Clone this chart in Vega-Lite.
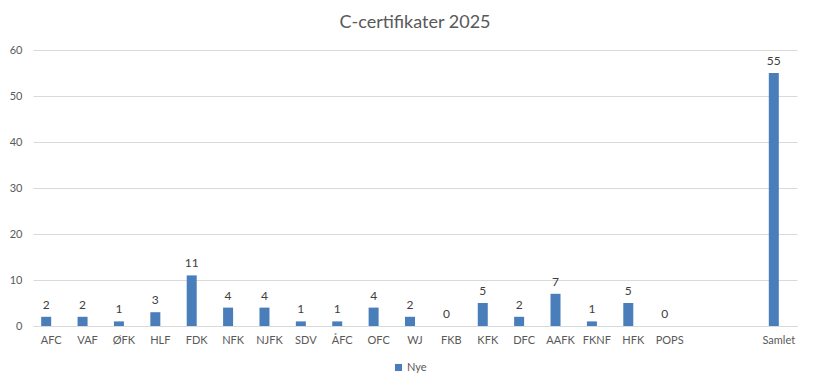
{
  "$schema": "https://vega.github.io/schema/vega-lite/v6.json",
  "width": 764,
  "height": 276,
  "autosize": {"type": "none"},
  "padding": {"left": 33, "top": 50, "right": 16, "bottom": 64},
  "background": "white",
  "title": {"text": "C-certifikater 2025", "font": "Lato", "fontSize": 18, "fontWeight": "normal", "color": "#595959", "anchor": "middle", "offset": 12},
  "data": {"values": [
    {"kat": "AFC", "antall": 2, "serie": "Nye"},
    {"kat": "VAF", "antall": 2, "serie": "Nye"},
    {"kat": "ØFK", "antall": 1, "serie": "Nye"},
    {"kat": "HLF", "antall": 3, "serie": "Nye"},
    {"kat": "FDK", "antall": 11, "serie": "Nye"},
    {"kat": "NFK", "antall": 4, "serie": "Nye"},
    {"kat": "NJFK", "antall": 4, "serie": "Nye"},
    {"kat": "SDV", "antall": 1, "serie": "Nye"},
    {"kat": "ÅFC", "antall": 1, "serie": "Nye"},
    {"kat": "OFC", "antall": 4, "serie": "Nye"},
    {"kat": "WJ", "antall": 2, "serie": "Nye"},
    {"kat": "FKB", "antall": 0, "serie": "Nye"},
    {"kat": "KFK", "antall": 5, "serie": "Nye"},
    {"kat": "DFC", "antall": 2, "serie": "Nye"},
    {"kat": "AAFK", "antall": 7, "serie": "Nye"},
    {"kat": "FKNF", "antall": 1, "serie": "Nye"},
    {"kat": "HFK", "antall": 5, "serie": "Nye"},
    {"kat": "POPS", "antall": 0, "serie": "Nye"},
    {"kat": "Samlet", "antall": 55, "serie": "Nye"}
  ]},
  "encoding": {
    "x": {
      "field": "kat", "type": "nominal", "sort": null,
      "scale": {"domain": ["AFC","VAF","ØFK","HLF","FDK","NFK","NJFK","SDV","ÅFC","OFC","WJ","FKB","KFK","DFC","AAFK","FKNF","HFK","POPS"," ","  ","Samlet"], "paddingInner": 0.45, "paddingOuter": 0.225},
      "axis": {"title": null, "labelAngle": 0, "ticks": false, "domainColor": "#d9d9d9", "labelFont": "Lato", "labelFontSize": 11, "labelColor": "#595959", "labelPadding": 8, "grid": false}
    },
    "xOffset": {"field": "serie", "type": "nominal", "scale": {"domain": ["Nye", "_"], "paddingInner": 0, "paddingOuter": 0}},
    "y": {
      "field": "antall", "type": "quantitative",
      "scale": {"domain": [0, 60], "nice": false},
      "axis": {"title": null, "values": [0,10,20,30,40,50,60], "ticks": false, "domain": false, "gridColor": "#d9d9d9", "labelFont": "Lato", "labelFontSize": 11, "labelColor": "#595959", "labelPadding": 11}
    }
  },
  "layer": [
    {
      "mark": {"type": "bar"},
      "encoding": {
        "color": {"field": "serie", "type": "nominal", "scale": {"domain": ["Nye"], "range": ["#4a7ebb"]},
          "legend": {"title": null, "orient": "none", "legendX": 360, "legendY": 312, "symbolType": "square", "symbolSize": 50, "labelFont": "Lato", "labelFontSize": 11, "labelColor": "#595959", "labelOffset": 3}}
      }
    },
    {
      "mark": {"type": "text", "baseline": "bottom", "dy": -5, "font": "Lato", "fontSize": 12, "color": "#404040"},
      "encoding": {"text": {"field": "antall", "type": "quantitative"}}
    }
  ],
  "config": {"view": {"stroke": null}}
}
